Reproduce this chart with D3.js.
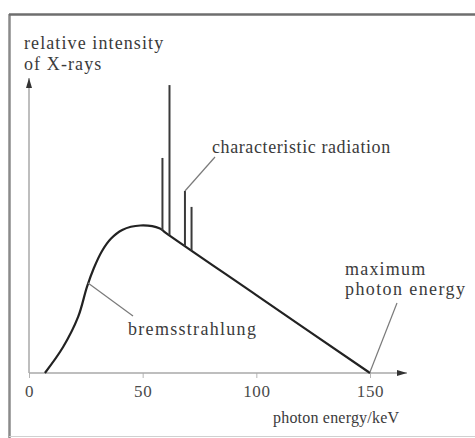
<!DOCTYPE html>
<html>
<head>
<meta charset="utf-8">
<script src="https://cdn.jsdelivr.net/npm/d3@7"></script>
<style>
    body { margin: 0; background: #fff; }
    text { font-family: "Liberation Serif", "Times New Roman", serif; fill: #3b3b3b; }
</style>
</head>
<body>
<script>
// bremsstrahlung curve (keV, relative intensity)
var curveEnergy = [7.0, 15.0, 21.6, 25.5, 28.5, 32, 36, 41, 49, 57.6, 60, 100, 150];
var curveIntensity = [0, 8.8, 19, 29.2, 35.5, 41.2, 45.5, 48.5, 50.0, 49.0, 47.6, 26.4, 0];

// characteristic lines
var lineEnergy = [58.7, 61.8, 68.6, 71.5];
var lineTop = [72.9, 97.6, 61.7, 56.3];

// axis ticks
var tickValues = [0, 50, 100, 150];

window.onload = function () {

    var w = 475;
    var h = 438;

    var svg = d3.select("body")
        .append("svg")
        .attr("width", w)
        .attr("height", h);

    // scales
    var xScale = d3.scaleLinear()
        .domain([0, 150])
        .range([29, 370]);

    var yScale = d3.scaleLinear()
        .domain([0, 100])
        .range([373, 78]);

    // frame
    svg.append("line")
        .attr("x1", 9.5).attr("y1", 14)
        .attr("x2", 9.5).attr("y2", h)
        .style("stroke", "#8a8a8a")
        .style("stroke-width", 2.5);
    svg.append("line")
        .attr("x1", 9).attr("y1", 14.5)
        .attr("x2", w).attr("y2", 14.5)
        .style("stroke", "#6e6e6e")
        .style("stroke-width", 2.5);
    svg.append("line")
        .attr("x1", 9).attr("y1", 436.5)
        .attr("x2", w).attr("y2", 436.5)
        .style("stroke", "#d0d0d0")
        .style("stroke-width", 1);

    // arrow head
    svg.append("defs").append("marker")
        .attr("id", "arrow")
        .attr("viewBox", "0 0 10 6")
        .attr("refX", 10)
        .attr("refY", 3)
        .attr("markerWidth", 11)
        .attr("markerHeight", 6)
        .attr("markerUnits", "userSpaceOnUse")
        .attr("orient", "auto")
        .append("path")
        .attr("d", "M0,0 L10,3 L0,6 Z")
        .style("fill", "#333");

    // x axis
    var xAxis = d3.axisBottom(xScale)
        .tickValues(tickValues)
        .tickSize(5)
        .tickPadding(7)
        .tickFormat(d3.format("d"));

    var gx = svg.append("g")
        .attr("transform", "translate(0,373)")
        .call(xAxis);
    gx.select(".domain").remove();
    gx.selectAll(".tick line").style("stroke", "#b5b5b5");
    gx.selectAll(".tick text")
        .style("font-family", "'Liberation Serif', serif")
        .style("font-size", "17px")
        .style("letter-spacing", "0.6px")
        .style("fill", "#4a4a4a");

    svg.append("line")
        .attr("x1", xScale(0)).attr("y1", 373)
        .attr("x2", 407).attr("y2", 373)
        .style("stroke", "#a8a8a8")
        .style("stroke-width", 1.5)
        .attr("marker-end", "url(#arrow)");

    // y axis
    svg.append("line")
        .attr("x1", xScale(0)).attr("y1", yScale(0))
        .attr("x2", xScale(0)).attr("y2", yScale(100))
        .style("stroke", "#a8a8a8")
        .style("stroke-width", 1.5)
        .attr("marker-end", "url(#arrow)");

    // curve
    var points = curveEnergy.map(function (d, i) {
        return [d, curveIntensity[i]];
    });

    var line = d3.line()
        .x(function (d) { return xScale(d[0]); })
        .y(function (d) { return yScale(d[1]); })
        .curve(d3.curveCatmullRom.alpha(0.5));

    svg.append("path")
        .datum(points)
        .attr("d", line)
        .style("fill", "none")
        .style("stroke", "#222")
        .style("stroke-width", 2.2);

    // base of each line sits on the curve
    function curveAt(e) {
        var i = d3.bisectRight(curveEnergy, e) - 1;
        var t = (e - curveEnergy[i]) / (curveEnergy[i + 1] - curveEnergy[i]);
        return curveIntensity[i] + t * (curveIntensity[i + 1] - curveIntensity[i]);
    }

    svg.selectAll(".peak")
        .data(lineEnergy)
        .enter()
        .append("line")
        .attr("class", "peak")
        .attr("x1", function (d) { return xScale(d); })
        .attr("x2", function (d) { return xScale(d); })
        .attr("y1", function (d) { return yScale(curveAt(d)); })
        .attr("y2", function (d, i) { return yScale(lineTop[i]); })
        .style("stroke", "#3a3a3a")
        .style("stroke-width", 2);

    // leader lines
    var leaders = [
        [215, 157, xScale(lineEnergy[2]), yScale(lineTop[2])],
        [88, 283, 133, 316],
        [397, 303, xScale(150), 372]
    ];
    svg.selectAll(".leader")
        .data(leaders)
        .enter()
        .append("line")
        .attr("class", "leader")
        .attr("x1", function (d) { return d[0]; })
        .attr("y1", function (d) { return d[1]; })
        .attr("x2", function (d) { return d[2]; })
        .attr("y2", function (d) { return d[3]; })
        .style("stroke", "#7a7a7a")
        .style("stroke-width", 1.2);

    // labels
    var labels = [
        ["relative intensity", 24, 49, 18, 1.1],
        ["of X-rays", 24, 70, 18, 1.1],
        ["characteristic radiation", 212, 153, 18, 0.6],
        ["bremsstrahlung", 128, 335, 18, 1.3],
        ["maximum", 345, 275, 18, 1.2],
        ["photon energy", 345, 295, 18, 1.4],
        ["photon energy/keV", 273, 423, 16, 0.2]
    ];
    svg.selectAll(".label")
        .data(labels)
        .enter()
        .append("text")
        .attr("class", "label")
        .attr("x", function (d) { return d[1]; })
        .attr("y", function (d) { return d[2]; })
        .style("font-size", function (d) { return d[3] + "px"; })
        .style("letter-spacing", function (d) { return d[4] + "px"; })
        .text(function (d) { return d[0]; });
};
</script>
</body>
</html>
